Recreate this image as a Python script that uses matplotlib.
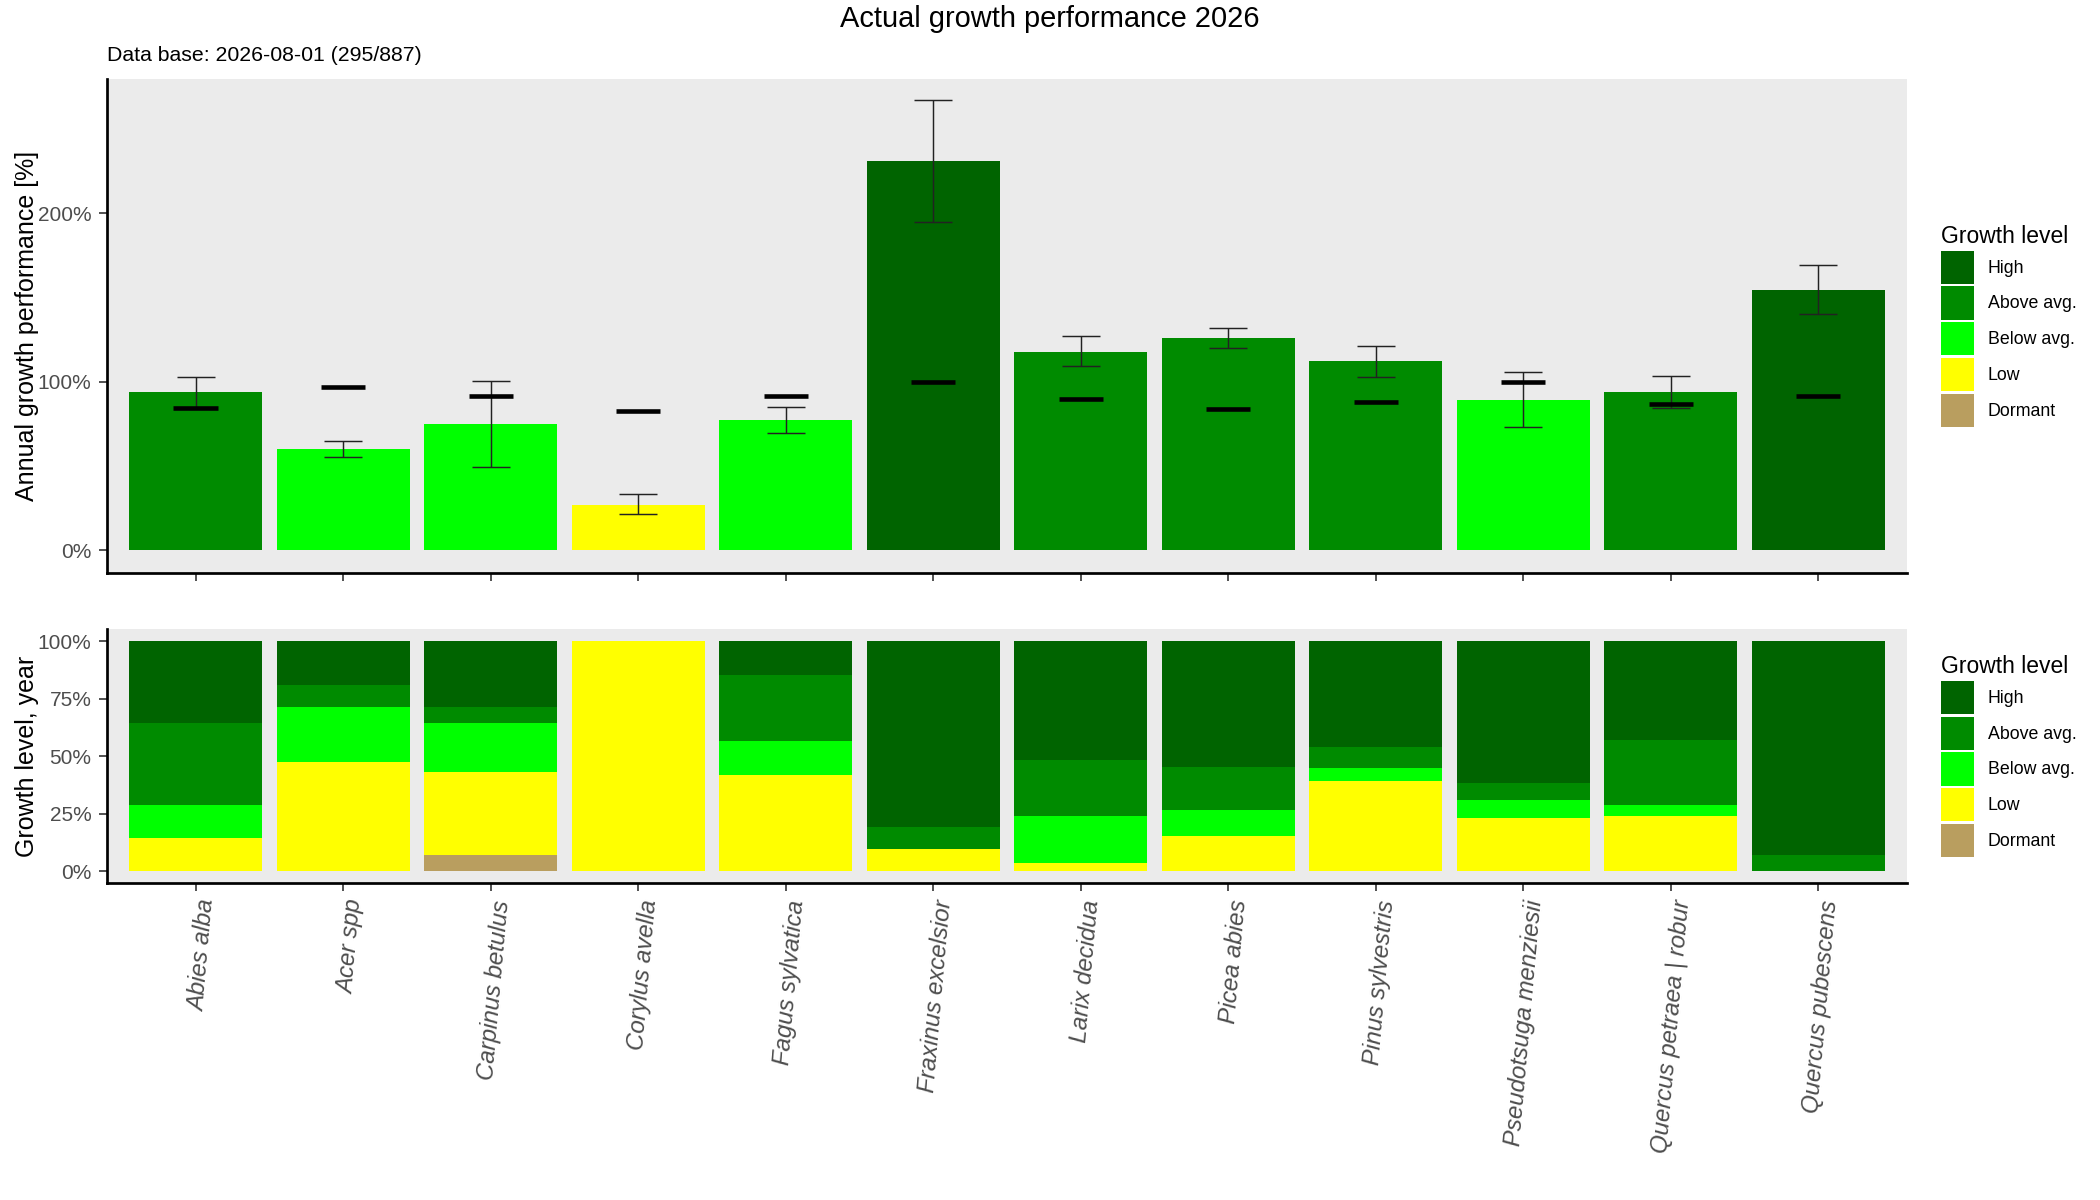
import matplotlib
matplotlib.use("Agg")
import matplotlib.pyplot as plt
from matplotlib.patches import Patch
import numpy as np

plt.rcParams['font.family'] = ['Liberation Sans', 'DejaVu Sans']

# data
species = ["Abies alba", "Acer spp", "Carpinus betulus", "Corylus avella",
           "Fagus sylvatica", "Fraxinus excelsior", "Larix decidua", "Picea abies",
           "Pinus sylvestris", "Pseudotsuga menziesii", "Quercus petraea | robur",
           "Quercus pubescens"]

performance = [94, 60, 75, 27, 77, 230.7, 117.6, 126, 112.4, 89.2, 94, 154.5]
err_low = [84.6, 55.5, 49.6, 21.6, 69.6, 194.8, 109, 120, 102.8, 72.8, 84.2, 140]
err_high = [103, 64.6, 100.6, 33.4, 85, 266.9, 127, 132, 121.3, 105.8, 103.5, 169.3]
reference = [84.6, 97, 91.5, 82.6, 91.7, 99.7, 89.6, 84, 88, 99.9, 86.7, 91.5]
bar_level = ["Above avg.", "Below avg.", "Below avg.", "Low", "Below avg.", "High",
             "Above avg.", "Above avg.", "Above avg.", "Below avg.", "Above avg.", "High"]

# share of growth levels over the year [%]
dormant = [0, 0, 7.1, 0, 0, 0, 0, 0, 0, 0, 0, 0]
low = [14.3, 47.6, 35.8, 100, 41.7, 9.5, 3.3, 15.1, 39.0, 22.9, 23.8, 0]
below = [14.3, 23.8, 21.4, 0, 14.8, 0, 20.5, 11.3, 5.7, 7.9, 4.8, 0]
above = [35.7, 9.5, 7.1, 0, 28.7, 9.5, 24.4, 18.7, 9.1, 7.4, 28.3, 6.8]
high = [35.7, 19.1, 28.6, 0, 14.8, 81.0, 51.8, 54.9, 46.2, 61.8, 43.1, 93.2]

levels = ["High", "Above avg.", "Below avg.", "Low", "Dormant"]
colors = {"High": "#006400", "Above avg.": "#008B00", "Below avg.": "#00FF00",
          "Low": "#FFFF00", "Dormant": "#B99E5F"}

x = np.arange(len(species))
panel_bg = "#EBEBEB"
tick_col = "#4D4D4D"

fig = plt.figure(figsize=(14, 8), dpi=150)
ax1 = fig.add_axes([0.051, 0.5225, 0.857, 0.4117])
ax2 = fig.add_axes([0.051, 0.264, 0.857, 0.2117])

for ax in (ax1, ax2):
    ax.set_facecolor(panel_bg)
    for s in ("top", "right"):
        ax.spines[s].set_visible(False)
    for s in ("left", "bottom"):
        ax.spines[s].set_linewidth(1.3)
        ax.spines[s].set_color("black")
    ax.tick_params(axis="both", length=4, width=0.8, color="#333333",
                   labelcolor=tick_col, labelsize=10)
    ax.set_xlim(-0.6, len(species) - 0.4)
    ax.set_xticks(x)

# top panel: performance bars
ax1.bar(x, performance, width=0.9, color=[colors[l] for l in bar_level], zorder=2)
perf = np.array(performance)
ax1.errorbar(x, perf,
             yerr=[perf - np.array(err_low), np.array(err_high) - perf],
             fmt="none", ecolor="#222222", elinewidth=0.7, capsize=9,
             capthick=0.7, zorder=3)
ax1.hlines(reference, x - 0.15, x + 0.15, colors="black", linewidth=2.2, zorder=4)
ax1.set_ylim(-13.5, 279.5)
ax1.set_yticks([0, 100, 200])
ax1.set_yticklabels(["0%", "100%", "200%"])
ax1.set_xticklabels([])
ax1.set_ylabel("Annual growth performance [%]", fontsize=12)

# bottom panel: stacked growth level shares
bottom = np.zeros(len(species))
for name, vals in [("Dormant", dormant), ("Low", low), ("Below avg.", below),
                   ("Above avg.", above), ("High", high)]:
    ax2.bar(x, vals, bottom=bottom, width=0.9, color=colors[name], zorder=2)
    bottom = bottom + np.array(vals)
ax2.set_ylim(-5.3, 105.2)
ax2.set_yticks([0, 25, 50, 75, 100])
ax2.set_yticklabels(["0%", "25%", "50%", "75%", "100%"])
ax2.set_xticklabels(species, rotation=85, ha="right", va="top",
                    rotation_mode="anchor", fontsize=11.5, style="italic")
ax2.set_ylabel("Growth level, year", fontsize=12)

for ax in (ax1, ax2):
    ax.yaxis.set_label_coords(-0.038, 0.5)

# legends
handles = [Patch(facecolor=colors[l], edgecolor="none") for l in levels]
for ax in (ax1, ax2):
    leg = ax.legend(handles, levels, title="Growth level", loc="center left",
                    bbox_to_anchor=(1.015, 0.5), frameon=False, fontsize=8.5,
                    title_fontsize=11, handlelength=1.85, handleheight=2.5,
                    labelspacing=0.15, handletextpad=0.8, borderaxespad=0)
    leg._legend_box.align = "left"

fig.suptitle("Actual growth performance 2026", x=0.5, y=0.984, va="center",
             fontsize=13.9)
fig.text(0.051, 0.954, "Data base: 2026-08-01 (295/887)", ha="left", va="center",
         fontsize=10.2)

fig.savefig("out.png", dpi=150)
